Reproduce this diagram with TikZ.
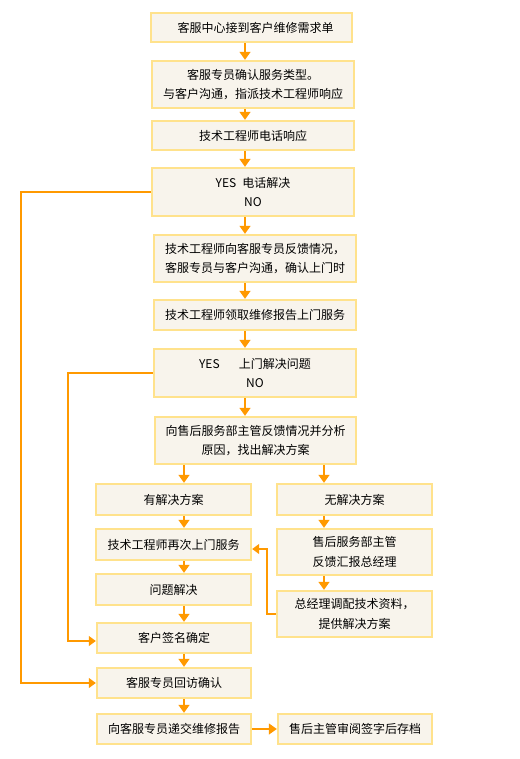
\documentclass[tikz,border=0pt]{standalone}
\usepackage{fontspec}
\setmainfont{Noto Sans CJK SC}
\usetikzlibrary{arrows.meta}
\definecolor{boxline}{RGB}{255,226,140}
\definecolor{boxfill}{RGB}{248,244,236}
\definecolor{conn}{RGB}{255,153,0}
\tikzset{
  box/.style={draw=boxline, fill=boxfill, line width=2.4pt, inner sep=0pt, align=center,
    font=\fontsize{12}{19.5}\selectfont},
  arr/.style={draw=conn, line width=1.4pt, -{Triangle[width=11pt,length=8pt]}},
  looparr/.style={draw=conn, line width=1.1pt, -{Triangle[width=10pt,length=7pt]}}
}
\begin{document}
\begin{tikzpicture}[x=1pt,y=-1pt]
\useasboundingbox (0,0) rectangle (519,759);
\fill[white] (0,0) rectangle (519,759);
\coordinate (mx) at (245,0);
\coordinate (lx) at (184,0);
\coordinate (rx) at (324,0);
\coordinate (loopa) at (21,0);
\coordinate (loopb) at (68,0);
\coordinate (loopc) at (267,0);

\node[box, minimum width=201, minimum height=29] (n1) at (251.5,27.5) {\hspace{8pt}客服中心接到客户维修需求单};
\node[box, minimum width=202, minimum height=47] (n2) at (253,84.5) {客服专员确认服务类型。\\与客户沟通，指派技术工程师响应};
\node[box, minimum width=202, minimum height=29] (n3) at (253,135.5) {技术工程师电话响应};
\node[box, minimum width=202, minimum height=48] (n4) at (253,192) {YES\hspace{0.5em}电话解决\\NO};
\node[box, minimum width=202, minimum height=47] (n5) at (255,258.5) {技术工程师向客服专员反馈情况，\\客服专员与客户沟通，确认上门时};
\node[box, minimum width=202, minimum height=30] (n6) at (255,315) {技术工程师领取维修报告上门服务};
\node[box, minimum width=202, minimum height=48] (n7) at (255,373) {YES\hspace{1.6em}上门解决问题\\NO};
\node[box, minimum width=201, minimum height=47] (n8) at (255.5,440.5) {向售后服务部主管反馈情况并分析\\原因，找出解决方案};
\node[box, minimum width=155, minimum height=31] (n9) at (173.5,499.5) {有解决方案};
\node[box, minimum width=155, minimum height=31] (n10) at (354.5,499.5) {无解决方案};
\node[box, minimum width=155, minimum height=31] (n11) at (173.5,544.5) {技术工程师再次上门服务};
\node[box, minimum width=155, minimum height=46] (n12) at (354.5,552) {售后服务部主管\\反馈汇报总经理};
\node[box, minimum width=155, minimum height=31] (n13) at (173.5,589.5) {问题解决};
\node[box, minimum width=155, minimum height=46] (n14) at (354.5,614) {总经理调配技术资料，\\提供解决方案};
\node[box, minimum width=154, minimum height=30] (n15) at (174,638) {客户签名确定};
\node[box, minimum width=154, minimum height=30] (n16) at (174,683) {客服专员回访确认};
\node[box, minimum width=154, minimum height=30] (n17) at (174,729) {向客服专员递交维修报告};
\node[box, minimum width=154, minimum height=30] (n18) at (355,729) {售后主管审阅签字后存档};

\coordinate (t15) at ([yshift=-3pt]n15.west);
\coordinate (t11) at ([yshift=-4.5pt]n11.east);

% main chain
\draw[arr] (n1.south -| mx) -- (n2.north -| mx);
\draw[arr] (n2.south -| mx) -- (n3.north -| mx);
\draw[arr] (n3.south -| mx) -- (n4.north -| mx);
\draw[arr] (n4.south -| mx) -- (n5.north -| mx);
\draw[arr] (n5.south -| mx) -- (n6.north -| mx);
\draw[arr] (n6.south -| mx) -- (n7.north -| mx);
\draw[arr] (n7.south -| mx) -- (n8.north -| mx);
% branches
\draw[arr] (n8.south -| lx) -- (n9.north -| lx);
\draw[arr] (n8.south -| rx) -- (n10.north -| rx);
\draw[arr] (n9.south -| lx) -- (n11.north -| lx);
\draw[arr] (n11.south -| lx) -- (n13.north -| lx);
\draw[arr] (n13.south -| lx) -- (n15.north -| lx);
\draw[arr] (n15.south -| lx) -- (n16.north -| lx);
\draw[arr] (n16.south -| lx) -- (n17.north -| lx);
\draw[arr] (n10.south -| rx) -- (n12.north -| rx);
\draw[arr] (n12.south -| rx) -- (n14.north -| rx);
\draw[arr] (n17.east) -- (n18.west);
% loops
\draw[looparr] (n4.west) -- (n4.west -| loopa) -- (loopa |- n16.west) -- (n16.west);
\draw[looparr] (n7.west) -- (n7.west -| loopb) -- (loopb |- t15) -- (t15);
\draw[looparr] (n14.west) -- (n14.west -| loopc) -- (loopc |- t11) -- (t11);
\end{tikzpicture}
\end{document}
